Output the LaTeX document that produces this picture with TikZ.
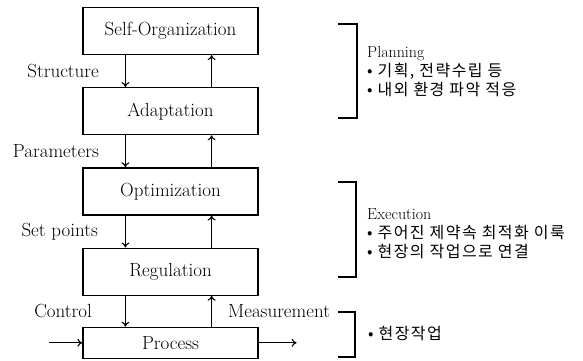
\documentclass[tikz,border=0pt]{standalone}
\usepackage{fontspec}
\newfontfamily\kr[LetterSpace=9]{Noto Sans CJK KR}
\usetikzlibrary{arrows.meta,positioning,calc}
\tikzset{block/.style={draw,line width=1.2pt,minimum width=175pt,minimum height=47pt,inner sep=0pt,font=\fontsize{19}{22}\selectfont},
 sig/.style={-{To[length=5pt,width=8pt]},line width=1.1pt},
 lbl/.style={inner sep=0pt,font=\fontsize{19}{22}\selectfont},
 note/.style={anchor=west,align=left,inner sep=0pt,font=\fontsize{16}{19}\selectfont},
 brk/.style={line width=1.2pt}}

\begin{document}
\begin{tikzpicture}[x=1pt,y=-1pt,node distance=32pt]
\useasboundingbox (0,0) rectangle (583,361);
% hierarchy
\node[block] (so) at (170.5,31) {Self-Organization};
\node[block,below=of so] (ad) {Adaptation};
\node[block,below=of ad] (op) {Optimization};
\node[block,below=of op] (re) {Regulation};
\node[block,minimum height=31pt,below=31pt of re] (pr) {Process};
% signals down and up
\draw[sig] ([xshift=43pt]so.south west) -- node[lbl,left=26pt] (lst) {Structure} ([xshift=43pt]ad.north west);
\draw[sig] ([xshift=43pt]ad.south west) -- node[lbl,left=26pt] (lpa) {Parameters} ([xshift=43pt]op.north west);
\draw[sig] ([xshift=43pt]op.south west) -- node[lbl,left=27pt] (lsp) {Set points} ([xshift=43pt]re.north west);
\draw[sig] ([xshift=43pt]re.south west) -- node[lbl,left=33pt] (lco) {Control} ([xshift=43pt]pr.north west);
\foreach \lo/\hi in {ad/so,op/ad,re/op}
  \draw[sig] ([xshift=-47pt]\lo.north east) -- ([xshift=-47pt]\hi.south east);
\draw[sig] ([xshift=-47pt]pr.north east) -- node[lbl,right=16pt] (lme) {Measurement} ([xshift=-47pt]re.south east);
\coordinate[left=33pt of pr.west] (in);
\coordinate[right=38pt of pr.east] (out);
\draw[sig] (in) -- (pr.west);
\draw[sig] (pr.east) -- (out);
% brackets and notes
\draw[brk] (338,24) -- (357,24) -- (357,118) -- (338,118);
\draw[brk] (338,182) -- (356,182) -- (356,277) -- (338,277);
\draw[brk] (338,312) -- (355,312) -- (355,357) -- (338,357);
\node[note] (npl) at (367,72) {Planning\\{\kr • 기획, 전략수립 등}\\{\kr • 내외 환경 파악 적응}};
\node[note] (nex) at (367,234) {Execution\\{\kr • 주어진 제약속 최적화 이룩}\\{\kr • 현장의 작업으로 연결}};
\node[note] (npr) at (368,334) {{\kr • 현장작업}};
\end{tikzpicture}
\end{document}
